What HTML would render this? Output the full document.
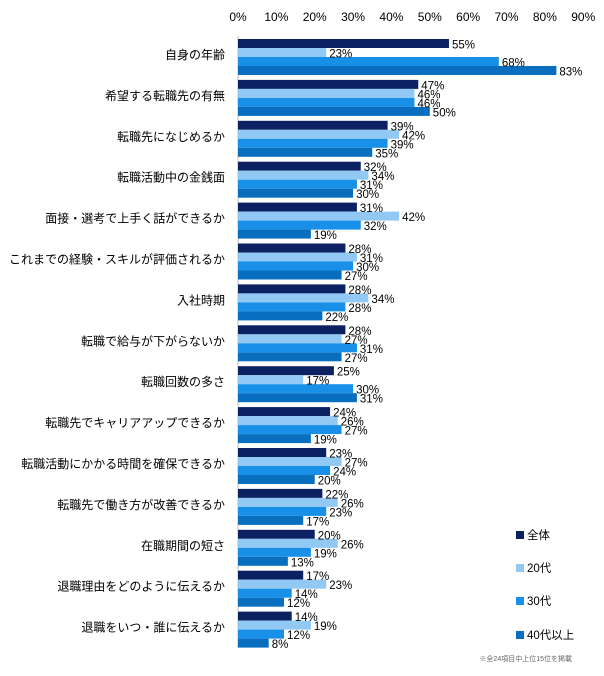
<!DOCTYPE html>
<html><head><meta charset="utf-8"><style>
body{margin:0;background:#fff;width:604px;height:671px;overflow:hidden;font-family:"Liberation Sans","Noto Sans CJK JP",sans-serif;}
svg text{font-family:"Liberation Sans","Noto Sans CJK JP",sans-serif;}
</style></head><body>
<svg id="chart" width="604" height="671" xmlns="http://www.w3.org/2000/svg"></svg>
<script>
const categories=["自身の年齢","希望する転職先の有無","転職先になじめるか","転職活動中の金銭面","面接・選考で上手く話ができるか","これまでの経験・スキルが評価されるか","入社時期","転職で給与が下がらないか","転職回数の多さ","転職先でキャリアアップできるか","転職活動にかかる時間を確保できるか","転職先で働き方が改善できるか","在職期間の短さ","退職理由をどのように伝えるか","退職をいつ・誰に伝えるか"];
const seriesNames=["全体","20代","30代","40代以上"];
const valsAll=[55,47,39,32,31,28,28,28,25,24,23,22,20,17,14];
const vals20=[23,46,42,34,42,31,34,27,17,26,27,26,26,23,19];
const vals30=[68,46,39,31,32,30,28,31,30,27,24,23,19,14,12];
const vals40=[83,50,35,30,19,27,22,27,31,19,20,17,13,12,8];
const ticks=[0,10,20,30,40,50,60,70,80,90];
const series=[valsAll,vals20,vals30,vals40];
const colors=["#0b2162","#92c8f4","#1890e8","#0a6ebf"];
const NS="http://www.w3.org/2000/svg";
const svg=document.getElementById("chart");
const x0=238,pxPer=3.836,top0=39,pitch=40.9,barH=9;
const xs=v=>x0+v*pxPer;
function mk(t,a,txt){const e=document.createElementNS(NS,t);for(const k in a)e.setAttribute(k,a[k]);if(txt!==undefined)e.textContent=txt;svg.appendChild(e);return e;}
ticks.forEach(t=>{
 const e=mk("text",{x:xs(t),y:21,"font-size":12,"text-anchor":"middle",fill:"#000"},t+"%");
 
 
});
const ax=mk("line",{x1:x0,y1:36,x2:x0,y2:648,stroke:"#bfbfbf","stroke-width":1});


categories.forEach((c,i)=>{
 const gy=top0+i*pitch;
 const l=mk("text",{x:225,y:gy+barH*2+2,"font-size":12,"text-anchor":"end",fill:"#000"},c);
 
 
});
categories.forEach((c,i)=>{
 const gy=top0+i*pitch;
 series.forEach((s,j)=>{
  const y=gy+j*barH;
  const r=mk("rect",{x:x0,y:y,width:xs(s[i])-x0,height:barH,fill:colors[j]});
  
  
 });
});
categories.forEach((c,i)=>{
 const gy=top0+i*pitch;
 series.forEach((s,j)=>{
  const y=gy+j*barH;
  const bg=mk("rect",{x:xs(s[i])+2,y:y+0.5,width:24,height:barH-1,fill:"#fff"});
  
  
  const v=mk("text",{x:xs(s[i])+3,y:y+barH+0.5,"font-size":11.5,fill:"#000"},s[i]+"%");
  
  
 });
});
const ly=[534,567,600,634];
seriesNames.forEach((n,j)=>{
 const r=mk("rect",{x:516,y:ly[j]-3,width:8,height:8,fill:colors[j]});
 
 
 const t=mk("text",{x:527,y:ly[j]+5,"font-size":11.5,fill:"#000"},n);
 
 
});
const note=mk("text",{x:572,y:661,"font-size":7,"text-anchor":"end",fill:"#666"},"※全24項目中上位15位を掲載");


</script>
</body></html>
